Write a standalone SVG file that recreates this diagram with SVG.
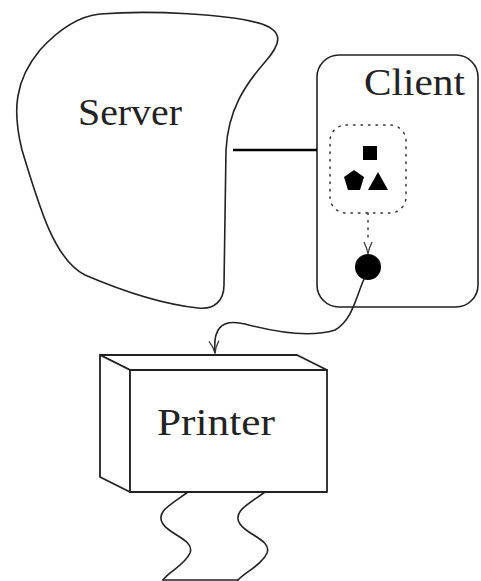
<svg xmlns="http://www.w3.org/2000/svg" width="481" height="581" viewBox="0 0 481 581">
<style>
.ln{fill:none;stroke:#222;stroke-width:1.6;stroke-linejoin:round;stroke-linecap:round}
.bx{fill:#fff;stroke:#222;stroke-width:1.8;stroke-linejoin:round}
.lbl{font-family:"Liberation Serif","DejaVu Serif",serif;fill:#222}
.dot{fill:none;stroke:#333;stroke-width:1.5;stroke-dasharray:1.5 6;stroke-linecap:round}
</style>
<defs>
<marker id="v" markerWidth="14" markerHeight="12" refX="13" refY="6" orient="auto" markerUnits="userSpaceOnUse" viewBox="0 0 14 12">
<path d="M1,1 Q7,5 13,6 Q7,7 1,11" fill="none" stroke="#333" stroke-width="1.2"/>
</marker>
<marker id="vd" markerWidth="14" markerHeight="10" refX="13" refY="5" orient="auto" markerUnits="userSpaceOnUse" viewBox="0 0 14 10">
<path d="M1,1 Q7,4 13,5 Q7,6 1,9" fill="none" stroke="#333" stroke-width="1.2"/>
</marker>
</defs>
<rect width="481" height="581" fill="#fff"/>
<g id="server">
<path class="ln" d="M100,14 C150,10 230,14 262,24 C285,32 280,45 265,62 C245,85 228,110 226,150 L224,285 C224,300 215,310 198,308 C160,304 120,290 85,275 C55,260 40,210 22,150 C12,110 15,80 40,50 C60,28 80,16 100,14 Z"/>
<text class="lbl" x="78" y="125" font-size="38" textLength="104" lengthAdjust="spacingAndGlyphs">Server</text>
</g>
<g id="client">
<rect class="ln" x="317" y="55" width="161" height="252" rx="22"/>
<text class="lbl" x="364" y="95" font-size="38" textLength="101" lengthAdjust="spacingAndGlyphs">Client</text>
<rect class="dot" x="330" y="125" width="76" height="88" rx="16"/>
<rect x="363" y="146" width="14" height="14" fill="#000"/>
<polygon points="354,170 364,177 360,190 348,190 344,177" fill="#000"/>
<polygon points="378,172 388,190 368,190" fill="#000"/>
<circle cx="368" cy="267" r="13" fill="#000"/>
</g>
<g id="printer">
<path class="bx" d="M100,355 L297,355 L327,370 L130,370 Z"/>
<path class="bx" d="M100,355 L130,370 L130,492 L100,477 Z"/>
<rect class="bx" x="130" y="370" width="197" height="122"/>
<text class="lbl" x="157" y="435" font-size="38" textLength="118" lengthAdjust="spacingAndGlyphs">Printer</text>
<path class="ln" d="M188,492 C170,505 155,512 163,524 C170,535 195,540 190,553 C185,565 168,572 163,580"/>
<path class="ln" d="M265,492 C247,505 232,512 240,524 C247,535 272,540 267,553 C262,565 245,572 238,580"/>
<path class="ln" d="M163,580 L238,580" stroke-width="1"/>
</g>
<g id="connectors">
<line x1="233" y1="150" x2="317" y2="150" stroke="#000" stroke-width="2.6"/>
<path class="dot" d="M368,213 L368,240"/>
<path d="M368,240 L368,254" fill="none" stroke="#333" stroke-width="0.01" marker-end="url(#vd)"/>
<path class="ln" d="M364,279 C355,300 352,320 335,330 C310,338 275,332 245,324 C220,318 213,330 215,353" marker-end="url(#v)"/>
</g>
</svg>
